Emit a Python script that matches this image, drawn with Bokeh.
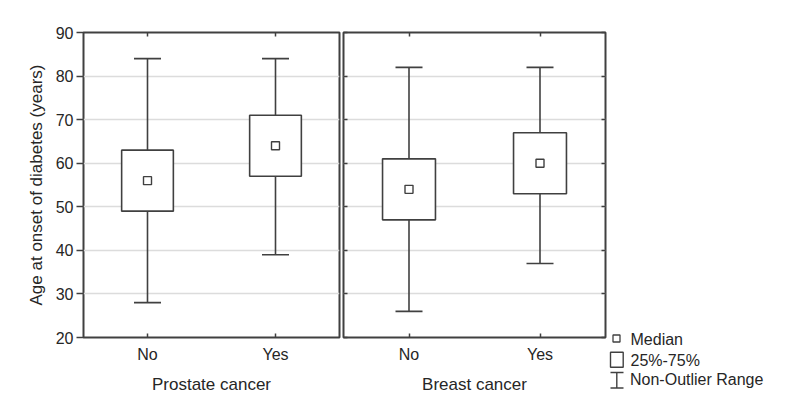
from bokeh.plotting import figure
from bokeh.layouts import row
from bokeh.models import Range1d, FactorRange, LinearAxis, CategoricalAxis, FixedTicker, ColumnDataSource
from bokeh.core.properties import value
from bokeh.embed import file_html
from bokeh.resources import INLINE

# ---------------- data ----------------
categories = ["No", "Yes"]
group_labels = ["Prostate cancer", "Breast cancer"]

prostate_min = [28, 39]
prostate_q1 = [49, 57]
prostate_median = [56, 64]
prostate_q3 = [63, 71]
prostate_max = [84, 84]

breast_min = [26, 37]
breast_q1 = [47, 53]
breast_median = [54, 60]
breast_q3 = [61, 67]
breast_max = [82, 82]

y_ticks = [20, 30, 40, 50, 60, 70, 80, 90]
y_label = "Age at onset of diabetes (years)"
legend_labels = ["Median", "25%-75%", "Non-Outlier Range"]

# ---------------- style / layout ----------------
FONT = "Liberation Sans"
LINE = "#404040"
TEXT = "#262626"
GRID = "#dcdcdc"
H = 401
TOP = 32
FRAME_H = 305
BOTTOM = H - TOP - FRAME_H
LEFT_BORDER = 83
LEFT_FRAME = 256
RIGHT_FRAME = 262
GAP = 2
LEFT_W = LEFT_BORDER + LEFT_FRAME + GAP
RIGHT_W = GAP + RIGHT_FRAME + GAP
LEG_W = 786 - LEFT_W - RIGHT_W


def style_inward(ax, hide_labels=True):
    ax.major_tick_in = 4
    ax.major_tick_out = 0
    ax.minor_tick_line_color = None
    ax.axis_line_color = None
    ax.major_tick_line_color = LINE
    ax.major_tick_line_width = 1.5
    if hide_labels:
        ax.major_label_text_font_size = "1px"
        ax.major_label_text_color = None
        ax.major_label_standoff = 0


def panel(frame_w, border_left, border_right, group, vmin, q1, med, q3, vmax, first):
    p = figure(x_range=FactorRange(*categories), y_range=Range1d(20, 90),
               frame_width=frame_w, frame_height=FRAME_H, title=None,
               output_backend="svg", toolbar_location=None,
               min_border_left=border_left, min_border_right=border_right,
               min_border_top=TOP, min_border_bottom=BOTTOM)
    p.outline_line_color = LINE
    p.outline_line_width = 2
    p.background_fill_color = "white"
    p.border_fill_color = "white"
    p.xgrid.visible = False
    p.ygrid.ticker = FixedTicker(ticks=y_ticks)
    p.ygrid.grid_line_color = GRID
    p.ygrid.grid_line_width = 1.3

    src = ColumnDataSource(dict(cat=categories, lo=vmin, q1=q1, med=med, q3=q3, hi=vmax))
    p.segment(x0="cat", y0="lo", x1="cat", y1="hi", source=src, line_color=LINE, line_width=1.6)
    p.vbar(x="cat", bottom="q1", top="q3", width=0.404, source=src,
           fill_color="white", line_color=LINE, line_width=1.6)
    p.scatter(x="cat", y="lo", marker="dash", size=27, source=src, line_color=LINE, line_width=1.6)
    p.scatter(x="cat", y="hi", marker="dash", size=27, source=src, line_color=LINE, line_width=1.6)
    p.scatter(x="cat", y="med", marker="square", size=8, source=src,
              fill_color="white", line_color=LINE, line_width=1.4)

    # bottom axis
    xa = p.xaxis[0]
    style_inward(xa, hide_labels=False)
    xa.major_label_text_font = FONT
    xa.major_label_text_font_size = "16px"
    xa.major_label_text_color = TEXT
    xa.major_label_standoff = 8
    xa.axis_label = group
    xa.axis_label_text_font = FONT
    xa.axis_label_text_font_size = "17px"
    xa.axis_label_text_font_style = "normal"
    xa.axis_label_text_color = TEXT
    xa.axis_label_standoff = 9

    # top axis (inward ticks)
    top = CategoricalAxis()
    style_inward(top)
    p.add_layout(top, "above")

    ya = p.yaxis[0]
    ya.ticker = FixedTicker(ticks=y_ticks)
    if first:
        ya.major_tick_in = 0
        ya.major_tick_out = 7
        ya.minor_tick_line_color = None
        ya.axis_line_color = None
        ya.major_tick_line_color = LINE
        ya.major_tick_line_width = 1.5
        ya.major_label_text_font = FONT
        ya.major_label_text_font_size = "16px"
        ya.major_label_text_color = TEXT
        ya.major_label_standoff = 3
        ya.axis_label = y_label
        ya.axis_label_text_font = FONT
        ya.axis_label_text_font_size = "17px"
        ya.axis_label_text_font_style = "normal"
        ya.axis_label_text_color = TEXT
        ya.axis_label_standoff = 7
    else:
        style_inward(ya)
        ra = LinearAxis(ticker=FixedTicker(ticks=y_ticks))
        style_inward(ra)
        p.add_layout(ra, "right")
    return p


p1 = panel(LEFT_FRAME, LEFT_BORDER, GAP, group_labels[0], prostate_min, prostate_q1,
           prostate_median, prostate_q3, prostate_max, True)
p2 = panel(RIGHT_FRAME, GAP, GAP, group_labels[1], breast_min, breast_q1, breast_median,
           breast_q3, breast_max, False)

# ---------------- legend panel (pixel coordinates of the page) ----------------
leg_start = LEFT_W + RIGHT_W
p3 = figure(frame_width=LEG_W, frame_height=H, title=None,
            x_range=Range1d(leg_start, leg_start + LEG_W), y_range=Range1d(H, 0),
            output_backend="svg", toolbar_location=None,
            x_axis_location=None, y_axis_location=None,
            min_border_left=0, min_border_right=0, min_border_top=0, min_border_bottom=0)
p3.grid.visible = False
p3.outline_line_color = None
p3.border_fill_color = "white"
p3.background_fill_color = "white"

p3.scatter(x=[616], y=[338], marker="square", size=7, fill_color="white",
           line_color=LINE, line_width=1.3)
p3.quad(left=[610], right=[622.7], top=[351.7], bottom=[366.7],
        fill_color="white", line_color=LINE, line_width=1.4)
p3.segment(x0=[616.3, 610, 610], y0=[372, 372, 387.5],
           x1=[616.3, 623, 623], y1=[387.5, 372, 387.5],
           line_color=LINE, line_width=1.4)
p3.text(x=[630, 630, 629.5], y=[338.5, 359.5, 378.5], text=legend_labels,
        text_font=value(FONT), text_font_size="16px", text_color=TEXT,
        text_baseline="alphabetic", text_align="left")

layout = row(row(p1, p2), p3)
open("out.html", "w").write(file_html(layout, INLINE))
